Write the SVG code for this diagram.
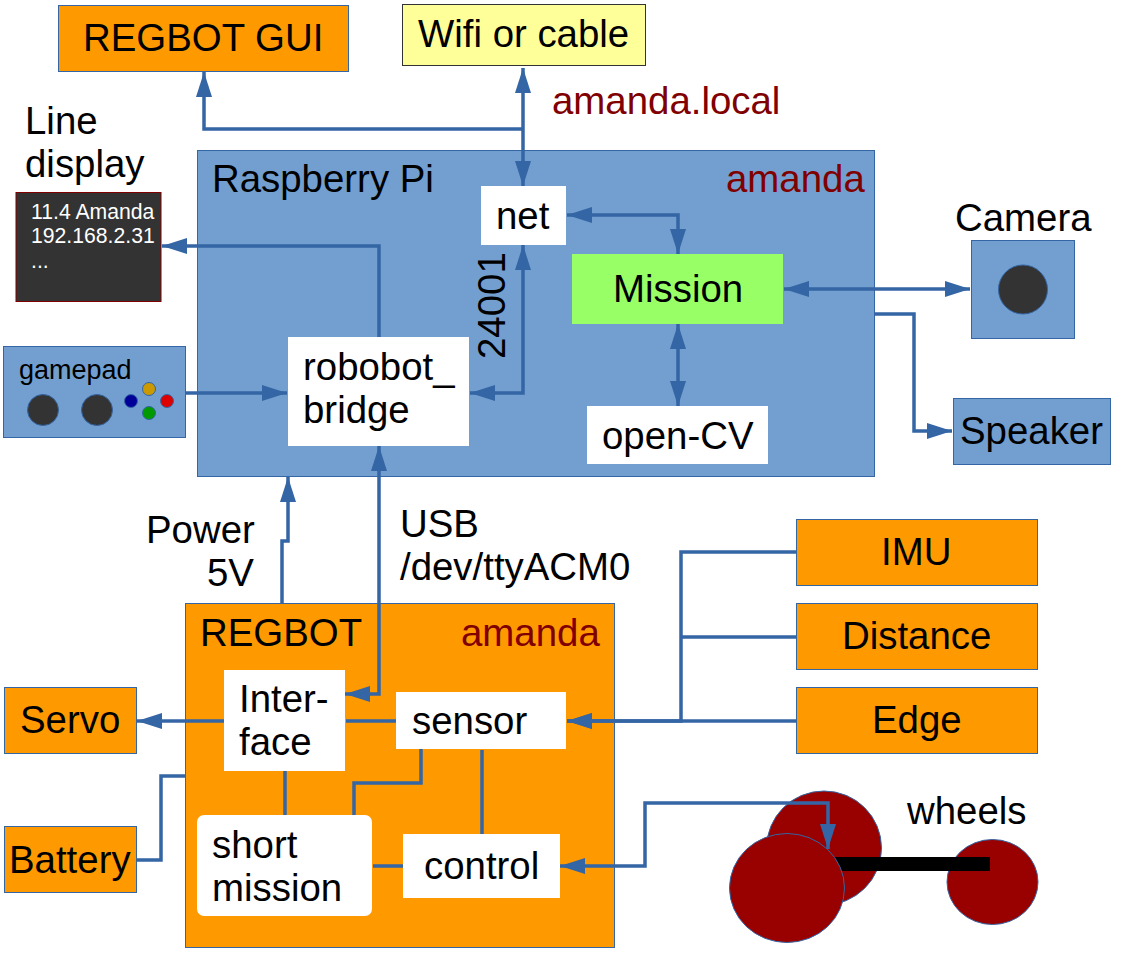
<svg xmlns="http://www.w3.org/2000/svg" width="1123" height="956" viewBox="0 0 1123 956">
<style>
text{font-family:"Liberation Sans",Arial,sans-serif;font-size:38.400px;fill:#000}
.o{fill:#ff9900;stroke:#3465a4;stroke-width:1}
.b{fill:#729fcf;stroke:#3465a4;stroke-width:1}
.w{fill:#fff;stroke:none}
.d{fill:#333;stroke:#3465a4;stroke-width:1}
.r{fill:#990000;stroke:#3465a4;stroke-width:1}
.l{fill:none;stroke:#3465a4;stroke-width:3.500;stroke-linejoin:miter}
.m{fill:#800000}
.s{font-size:21.200px;fill:#fff}
</style>
<defs>
<marker id="a" markerUnits="userSpaceOnUse" markerWidth="26" markerHeight="18" refX="25" refY="8" orient="auto-start-reverse" viewBox="0 0 26 16"><path d="M0 0L25 8L0 16Z" fill="#3465a4"/></marker>
</defs>
<g id="rpi"><rect class="b" x="197.500" y="150.500" width="677" height="326"/><text x="212" y="192">Raspberry Pi</text><text class="m" x="726" y="192">amanda</text></g>
<g id="regbot"><rect class="o" x="185.500" y="603.500" width="429" height="344"/><text x="200" y="646">REGBOT</text><text class="m" x="461" y="646">amanda</text></g>
<g id="wheels">
<ellipse class="r" cx="824" cy="848" rx="57.500" ry="57"/>
<ellipse class="r" cx="992.500" cy="882" rx="45.500" ry="42.500"/>
<rect x="830" y="857" width="160" height="14" fill="#000"/>
</g>
<g id="connectors">
<path class="l" d="M523 129H204V72" marker-end="url(#a)"/>
<path class="l" d="M523 186V68" marker-start="url(#a)" marker-end="url(#a)"/>
<path class="l" d="M379 337V246H162" marker-end="url(#a)"/>
<path class="l" d="M186 393H287" marker-end="url(#a)"/>
<path class="l" d="M470 393H523V245" marker-start="url(#a)" marker-end="url(#a)"/>
<path class="l" d="M567 215H678V254" marker-start="url(#a)" marker-end="url(#a)"/>
<path class="l" d="M678 324V406" marker-start="url(#a)" marker-end="url(#a)"/>
<path class="l" d="M784 289H970" marker-start="url(#a)" marker-end="url(#a)"/>
<path class="l" d="M875 314H914V431H952" marker-end="url(#a)"/>
<path class="l" d="M282 604V541H288V477" marker-end="url(#a)"/>
<path class="l" d="M379 446V694H345" marker-start="url(#a)" marker-end="url(#a)"/>
<path class="l" d="M224 721H137" marker-end="url(#a)"/>
<path class="l" d="M346 721H397"/>
<path class="l" d="M285 771V815"/>
<path class="l" d="M421 749V783H354V815"/>
<path class="l" d="M482 750V834"/>
<path class="l" d="M373 866H403"/>
<path class="l" d="M137 860H161V776H186"/>
<path class="l" d="M796 552H681V721H567" marker-end="url(#a)"/>
<path class="l" d="M796 637H681"/>
<path class="l" d="M796 721H567" marker-end="url(#a)"/>
<path class="l" d="M560 866H645V803H828V849" marker-start="url(#a)" marker-end="url(#a)"/>
</g>
<g id="wheel-front"><ellipse class="r" cx="787" cy="888" rx="57.500" ry="54.500"/></g>
<g id="gui"><rect class="o" x="58.500" y="5.500" width="290" height="66"/><text x="83" y="51">REGBOT GUI</text></g>
<g id="wifi"><rect x="402.500" y="4.500" width="243" height="61" fill="#ffff99" stroke="#333"/><text x="418" y="47">Wifi or cable</text></g>
<g id="lbl-local"><text class="m" x="552" y="114">amanda.local</text></g>
<g id="lbl-line"><text x="25" y="134">Line</text><text x="25" y="177">display</text></g>
<g id="display"><rect x="16" y="192.500" width="145" height="109" fill="#333" stroke="#800000"/><text class="s" x="31" y="219">11.4 Amanda</text><text class="s" x="31" y="243">192.168.2.31</text><text class="s" x="31" y="268">...</text></g>
<g id="gamepad"><rect class="b" x="3.500" y="346.500" width="182" height="91"/><text x="19" y="379" style="font-size:27px">gamepad</text>
<circle class="d" cx="43" cy="410" r="15.500"/><circle class="d" cx="97" cy="410" r="15.500"/>
<circle cx="131" cy="401" r="6.500" fill="#000099" stroke="#3465a4"/><circle cx="149" cy="389" r="6.500" fill="#cc9900" stroke="#3465a4"/><circle cx="167" cy="401" r="6.500" fill="#dd0000" stroke="#3465a4"/><circle cx="149" cy="413" r="6.500" fill="#009900" stroke="#3465a4"/></g>
<g id="net"><rect class="w" x="481" y="186" width="85" height="59"/><text x="496" y="229">net</text></g>
<g id="mission"><rect x="572" y="254" width="211" height="70" fill="#99ff66"/><text x="613" y="302">Mission</text></g>
<g id="bridge"><rect class="w" x="288" y="337" width="181" height="109"/><text x="303" y="380">robobot_</text><text x="303" y="423">bridge</text></g>
<g id="opencv"><rect class="w" x="587" y="406" width="181" height="58"/><text x="602" y="449">open-CV</text></g>
<g id="lbl-24001"><text transform="translate(505,359) rotate(-90)">24001</text></g>
<g id="camera"><rect class="b" x="971.500" y="240.500" width="103" height="98"/><circle class="d" cx="1023" cy="289.500" r="24.500"/><text x="955" y="231">Camera</text></g>
<g id="speaker"><rect class="b" x="953.500" y="398.500" width="157" height="66"/><text x="960" y="444">Speaker</text></g>
<g id="lbl-power"><text x="146" y="543">Power</text><text x="207" y="586">5V</text></g>
<g id="lbl-usb"><text x="400" y="537">USB</text><text x="400" y="580">/dev/ttyACM0</text></g>
<g id="imu"><rect class="o" x="796.500" y="519.500" width="241" height="66"/><text x="881" y="565">IMU</text></g>
<g id="distance"><rect class="o" x="796.500" y="603.500" width="241" height="66"/><text x="842" y="649">Distance</text></g>
<g id="edge"><rect class="o" x="796.500" y="687.500" width="241" height="66"/><text x="872" y="733">Edge</text></g>
<g id="servo"><rect class="o" x="4.500" y="687.500" width="132" height="66"/><text x="20" y="733">Servo</text></g>
<g id="battery"><rect class="o" x="4.500" y="826.500" width="132" height="66"/><text x="9" y="873">Battery</text></g>
<g id="interface"><rect class="w" x="224" y="670" width="121" height="101"/><text x="239" y="712">Inter-</text><text x="239" y="755">face</text></g>
<g id="sensor"><rect class="w" x="396" y="692" width="170" height="57"/><text x="412" y="734">sensor</text></g>
<g id="short"><rect class="w" x="197" y="815" width="175" height="101" rx="7"/><text x="212" y="858">short</text><text x="212" y="901">mission</text></g>
<g id="control"><rect class="w" x="403" y="834" width="157" height="64"/><text x="424" y="879">control</text></g>
<g id="lbl-wheels"><text x="907" y="824">wheels</text></g>
</svg>
